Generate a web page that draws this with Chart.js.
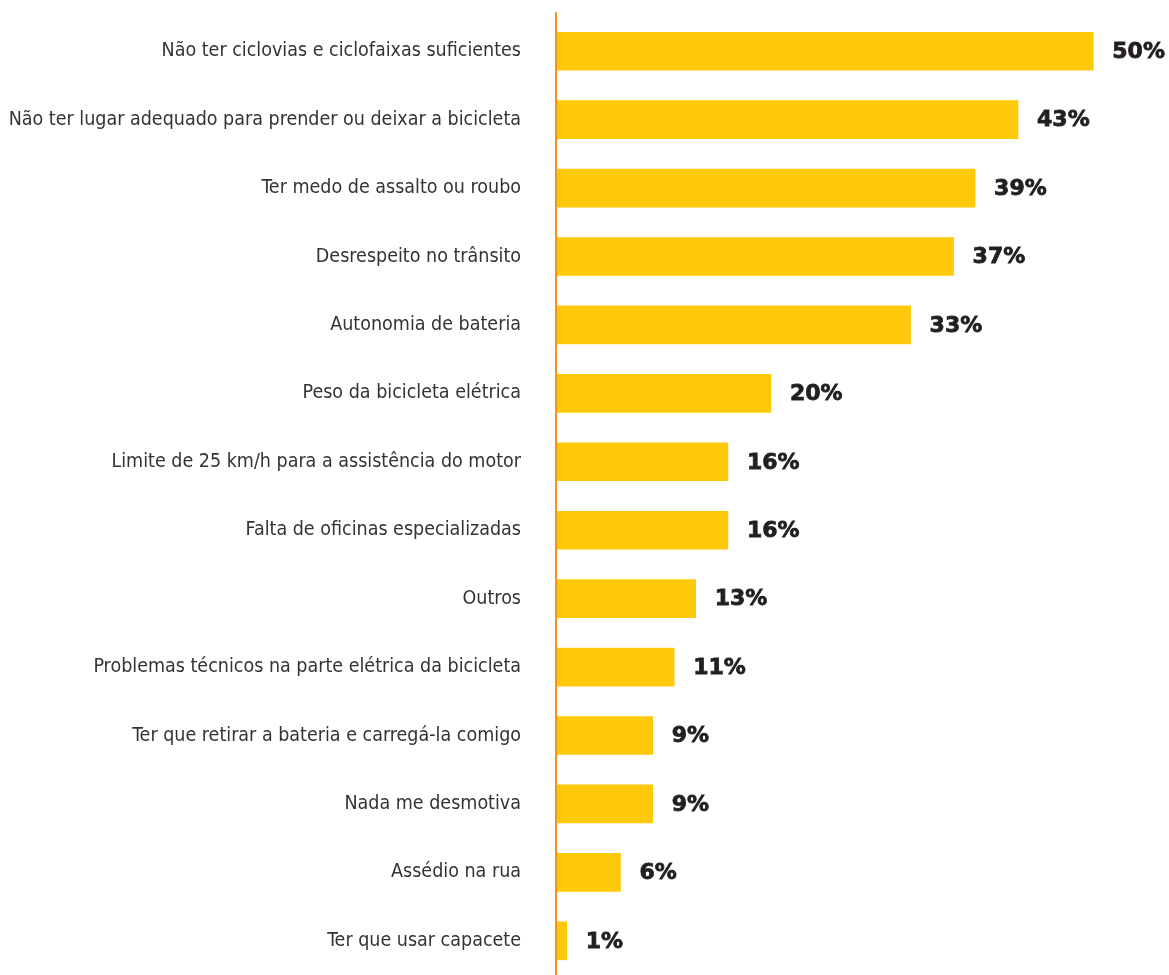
<!DOCTYPE html>
<html lang="pt-BR">
<head>
<meta charset="utf-8">
<script src="https://cdn.jsdelivr.net/npm/chart.js@4"></script>
<style>
  html, body { margin: 0; padding: 0; background: #fff; overflow: hidden; }
  canvas { display: block; }
</style>
</head>
<body>
<canvas id="grafico_desmotiva" width="1169" height="975"></canvas>
<script>
const motivos = [
    'Não ter ciclovias e ciclofaixas suficientes',
    'Não ter lugar adequado para prender ou deixar a bicicleta',
    'Ter medo de assalto ou roubo',
    'Desrespeito no trânsito',
    'Autonomia de bateria',
    'Peso da bicicleta elétrica',
    'Limite de 25 km/h para a assistência do motor',
    'Falta de oficinas especializadas',
    'Outros',
    'Problemas técnicos na parte elétrica da bicicleta',
    'Ter que retirar a bateria e carregá-la comigo',
    'Nada me desmotiva',
    'Assédio na rua',
    'Ter que usar capacete'
]
const percentuais = [50, 43, 39, 37, 33, 20, 16, 16, 13, 11, 9, 9, 6, 1]

const corBarra = '#FEC90B'
const corEixo = '#F4941F'

// linha vertical do eixo, um pouco acima da primeira barra
const linhaEixo = {
    id: 'linhaEixo',
    afterDatasetsDraw(chart) {
        const ctx = chart.ctx
        const x = chart.scales.x.getPixelForValue(0)
        ctx.save()
        ctx.strokeStyle = corEixo
        ctx.lineWidth = 2
        ctx.beginPath()
        ctx.moveTo(x, 12)
        ctx.lineTo(x, 975)
        ctx.stroke()
        ctx.restore()
    }
}

// rótulos de porcentagem ao lado de cada barra
const rotulosValor = {
    id: 'rotulosValor',
    afterDatasetsDraw(chart) {
        const ctx = chart.ctx
        const meta = chart.getDatasetMeta(0)
        ctx.save()
        ctx.font = 'bold 22px "DejaVu Sans"'
        ctx.fillStyle = '#231F20'
        ctx.strokeStyle = '#231F20'
        ctx.lineWidth = 0.8
        ctx.textBaseline = 'middle'
        ctx.textAlign = 'left'
        meta.data.forEach((bar, i) => {
            const txt = `${percentuais[i]}%`
            ctx.fillText(txt, bar.x + 19, bar.y + 1)
            ctx.strokeText(txt, bar.x + 19, bar.y + 1)
        })
        ctx.restore()
    }
}

let graficoDesmotiva = new Chart(
    document.getElementById('grafico_desmotiva'),
    {
        type: 'bar',
        data: {
            labels: motivos,
            datasets: [{
                data: percentuais,
                backgroundColor: corBarra,
                borderWidth: 0,
                barThickness: 38
            }]
        },
        options: {
            indexAxis: 'y',
            responsive: false,
            animation: false,
            layout: {
                autoPadding: false,
                padding: { top: 17, right: 22, bottom: 0, left: 0 }
            },
            plugins: {
                legend: { display: false },
                tooltip: { enabled: false }
            },
            scales: {
                x: {
                    display: false,
                    min: 0,
                    max: 55
                },
                y: {
                    afterFit(scale) {
                        scale.width = 556
                        scale.paddingTop = 0
                        scale.paddingBottom = 0
                    },
                    grid: { display: false, drawTicks: false },
                    border: { display: false },
                    ticks: {
                        padding: 35,
                        color: '#333333',
                        font: { family: '"DejaVu Sans Condensed", "DejaVu Sans"', size: 19.5 }
                    }
                }
            }
        },
        plugins: [linhaEixo, rotulosValor]
    }
)
</script>
</body>
</html>
